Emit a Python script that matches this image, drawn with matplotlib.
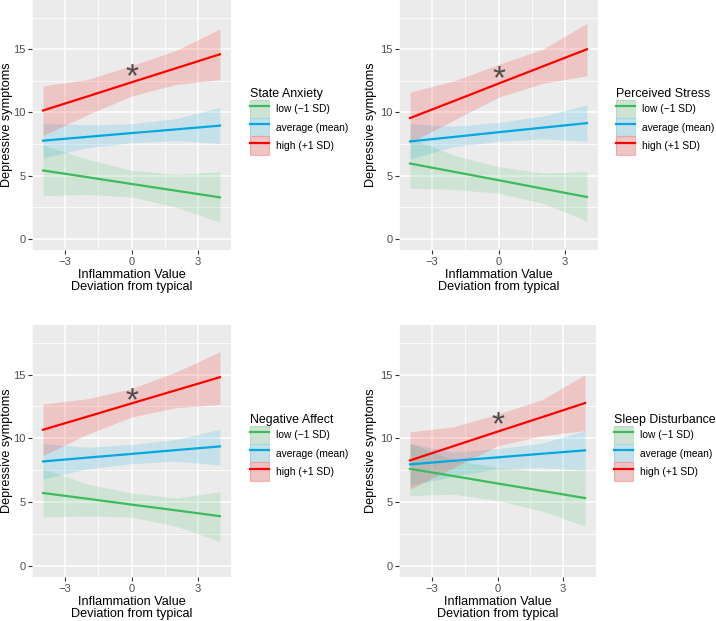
import matplotlib.pyplot as plt
from matplotlib.lines import Line2D
from matplotlib.patches import Patch
from matplotlib.colors import to_rgba

plt.rcParams['font.family'] = ['Liberation Sans', 'DejaVu Sans']

# x positions where the fitted lines / bands were read
x_pts = [-4, -2, 0, 2, 4]

panel_titles = ["State Anxiety", "Perceived Stress", "Negative Affect", "Sleep Disturbance"]
level_labels = ["low (\u22121 SD)", "average (mean)", "high (+1 SD)"]
level_colors = ["#3DBB5C", "#00A8E0", "#FF0000"]

# fitted values at x_pts, per panel: [low, average, high]
fit_low = [
    [5.4, 4.87, 4.33, 3.8, 3.27],
    [5.95, 5.29, 4.63, 3.96, 3.3],
    [5.7, 5.25, 4.79, 4.34, 3.88],
    [7.6, 7.03, 6.45, 5.88, 5.3],
]
fit_avg = [
    [7.76, 8.06, 8.36, 8.65, 8.95],
    [7.7, 8.06, 8.43, 8.79, 9.15],
    [8.18, 8.48, 8.77, 9.07, 9.36],
    [7.95, 8.23, 8.5, 8.78, 9.05],
]
fit_high = [
    [10.15, 11.26, 12.38, 13.49, 14.6],
    [9.55, 10.91, 12.28, 13.64, 15.0],
    [10.67, 11.7, 12.74, 13.77, 14.8],
    [8.26, 9.39, 10.52, 11.64, 12.77],
]

# confidence band bounds at x_pts, per panel
low_lo = [
    [3.4, 3.5, 3.3, 2.5, 1.3],
    [4.0, 3.9, 3.6, 2.8, 1.4],
    [3.8, 3.9, 3.8, 3.1, 1.9],
    [5.5, 5.6, 5.1, 4.3, 3.1],
]
low_hi = [
    [7.4, 6.3, 5.4, 5.1, 5.3],
    [7.95, 6.6, 5.7, 5.2, 5.3],
    [7.6, 6.4, 5.7, 5.3, 5.8],
    [9.6, 8.3, 7.7, 7.4, 7.5],
]
avg_lo = [
    [6.4, 7.2, 7.6, 7.75, 7.55],
    [6.3, 7.3, 7.7, 7.9, 7.7],
    [6.8, 7.6, 8.0, 8.2, 7.9],
    [6.3, 7.0, 7.6, 7.7, 7.5],
]
avg_hi = [
    [9.16, 9.0, 9.1, 9.5, 10.4],
    [9.1, 8.9, 9.2, 9.7, 10.6],
    [9.57, 9.3, 9.5, 9.9, 10.7],
    [9.57, 8.9, 9.2, 9.6, 10.6],
]
high_lo = [
    [8.16, 9.8, 11.3, 12.2, 12.6],
    [7.6, 9.4, 11.2, 12.3, 12.9],
    [8.65, 10.3, 11.67, 12.4, 12.67],
    [6.0, 7.7, 9.4, 10.2, 10.6],
]
high_hi = [
    [12.1, 12.6, 13.7, 14.9, 16.6],
    [11.6, 12.5, 13.8, 15.0, 17.05],
    [12.7, 13.1, 13.9, 15.2, 16.8],
    [10.5, 10.9, 11.9, 13.0, 15.0],
]

# asterisk heights (at x = 0)
star_y = [13.3, 13.1, 13.4, 11.5]

W, H = 716, 621
fig = plt.figure(figsize=(W / 100, H / 100), dpi=100)

# axes boxes in pixels: left, top, right, bottom
boxes = [(32, 0, 231, 250), (399, 0, 598, 250), (32, 325, 231, 577), (399, 325, 596, 577)]
legend_xy = [(248, 86), (614, 86), (248, 412), (612, 412)]
ylabel_right = [13, 377, 13, 377]


def px_axes(l, t, r, b):
    return fig.add_axes([l / W, 1 - b / H, (r - l) / W, (b - t) / H])


for i, title in enumerate(panel_titles):
    l, t, r, b = boxes[i]
    ax = px_axes(l, t, r, b)
    ax.set_facecolor("#EBEBEB")
    for s in ax.spines.values():
        s.set_visible(False)
    ax.set_xlim(-4.4, 4.4)
    ax.set_ylim(-0.9, 18.9)
    ax.set_xticks([-3, 0, 3])
    ax.set_xticklabels(["\u22123", "0", "3"])
    ax.set_yticks([0, 5, 10, 15])
    ax.set_xticks([-4.5, -1.5, 1.5, 4.5], minor=True)
    ax.set_yticks([2.5, 7.5, 12.5, 17.5], minor=True)
    ax.grid(which="major", color="white", lw=1.1)
    ax.grid(which="minor", color="white", lw=0.55)
    ax.set_axisbelow(True)
    ax.tick_params(which="major", length=2.7, width=0.8, color="#333333",
                   labelsize=8, labelcolor="#4D4D4D", pad=2)
    ax.tick_params(which="minor", length=0)

    bands = [(low_lo[i], low_hi[i]), (avg_lo[i], avg_hi[i]), (high_lo[i], high_hi[i])]
    fits = [fit_low[i], fit_avg[i], fit_high[i]]
    for (lo, hi), c in zip(bands, level_colors):
        ax.fill_between(x_pts, lo, hi, color=c, alpha=0.16, lw=0)
    for f, c in zip(fits, level_colors):
        ax.plot(x_pts, f, color=c, lw=1.6)

    ax.annotate("*", xy=(0, star_y[i]), xytext=(0, -7), textcoords="offset pixels",
                ha="center", va="center", fontsize=24, color="#4D4D4D")

    ax.set_xlabel("Inflammation Value\nDeviation from typical", fontsize=9.1,
                  labelpad=1.5, linespacing=1.05)
    ax.set_ylabel("Depressive symptoms", fontsize=9.1)
    ax.yaxis.set_label_coords((ylabel_right[i] - l) / (r - l), 0.5)

    handles = []
    for c in level_colors:
        bg = Patch(facecolor="#EBEBEB", edgecolor="none")
        fill = Patch(facecolor=to_rgba(c, 0.16), edgecolor=to_rgba(c, 0.25), lw=0.8)
        ln = Line2D([0], [0], color=c, lw=1.6)
        handles.append((bg, fill, ln))
    lx, ly = legend_xy[i]
    fig.legend(handles, level_labels, title=title, loc="upper left",
               bbox_to_anchor=(lx / W, 1 - ly / H), frameon=False,
               fontsize=7.4, title_fontsize=8.9, handlelength=1.8,
               handleheight=2.35, labelspacing=0.0, handletextpad=0.7,
               borderaxespad=0, borderpad=0.2, alignment="left")

fig.savefig("out.png", dpi=100)
